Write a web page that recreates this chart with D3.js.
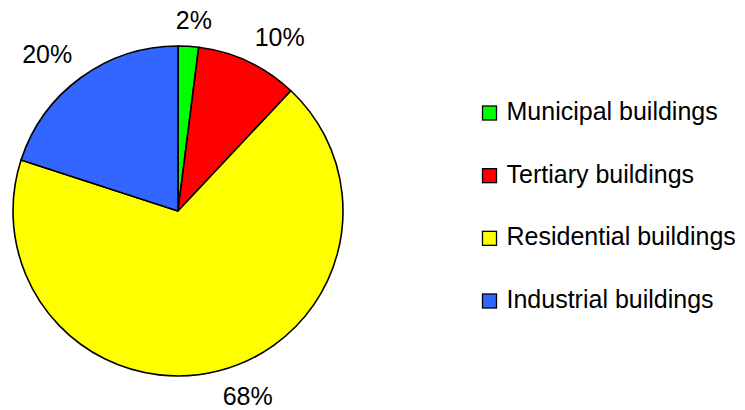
<!DOCTYPE html>
<html><head><meta charset="utf-8">
<script src="https://cdn.jsdelivr.net/npm/d3@7"></script>
<style>body{margin:0;background:#fff}svg{display:block}</style>
</head><body>
<script>
const categories = ["Municipal buildings","Tertiary buildings","Residential buildings","Industrial buildings"];
const values = [2, 10, 68, 20];
const labels = ["2%","10%","68%","20%"];
const colors = ["#00ff00","#ff0000","#ffff00","#3366ff"];

const W = 745, H = 410;
const FONT = "Liberation Sans, Arial, sans-serif";
const FS = 25;
const svg = d3.select("body").append("svg").attr("width",W).attr("height",H);
const cx = 178, cy = 211, r = 165;
const g = svg.append("g").attr("transform",`translate(${cx},${cy})`);
const pie = d3.pie().sort(null).value(d=>d)(values);
const arc = d3.arc().innerRadius(0).outerRadius(r);
g.selectAll("path").data(pie).join("path")
  .attr("d",arc).attr("fill",(d,i)=>colors[i])
  .attr("stroke","#000").attr("stroke-width",1.6).attr("stroke-linejoin","round");

// outside-end labels: box edge touches an anchor point just beyond the rim
const R = r + 15;
const lab = g.selectAll("text").data(pie).join("text")
  .attr("text-anchor","middle")
  .style("font-family",FONT).style("font-size",FS+"px")
  .text((d,i)=>labels[i]);
lab.each(function(d){
  const a = (d.startAngle + d.endAngle)/2;
  const w = this.getComputedTextLength();
  const s = Math.max(-1, Math.min(1, Math.sin(a)*4));
  const x = Math.sin(a)*R + s*w/2;
  const y = -Math.cos(a)*R - Math.sign(Math.cos(a))*11;
  d3.select(this).attr("x",x).attr("y",y + FS*0.36);
});

const leg = svg.append("g").attr("transform","translate(482.5,0)");
const ly = d3.scalePoint().domain(categories).range([111,299]);
leg.selectAll("rect").data(categories).join("rect")
  .attr("x",0).attr("y",d=>ly(d)-5).attr("width",14).attr("height",14)
  .attr("fill",(d,i)=>colors[i]).attr("stroke","#000").attr("stroke-width",1.3);
leg.selectAll("text").data(categories).join("text")
  .attr("x",24).attr("y",d=>ly(d)+FS*0.36)
  .style("font-family",FONT).style("font-size",FS+"px")
  .text(d=>d);
</script>
</body></html>
